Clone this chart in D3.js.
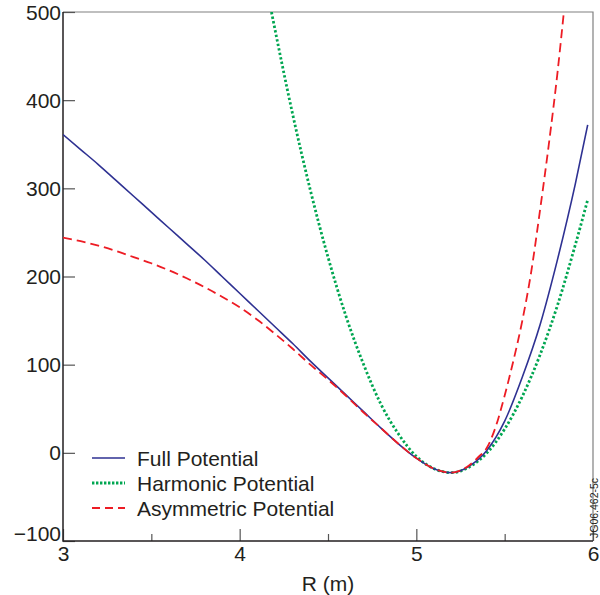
<!DOCTYPE html>
<html>
<head>
<meta charset="utf-8">
<script src="https://cdn.jsdelivr.net/npm/d3@7/dist/d3.min.js"></script>
<style>
body { margin: 0; background: #fff; }
text { font-family: "Liberation Sans", Arial, sans-serif; fill: #231f20; }
</style>
</head>
<body>
<script>
// values
const rFull = [3.0, 3.1, 3.2, 3.3, 3.4, 3.5, 3.6, 3.7, 3.8, 3.9, 4.0, 4.1, 4.2, 4.3, 4.4, 4.5, 4.6, 4.7, 4.8, 4.9, 5.0, 5.1, 5.2, 5.3, 5.4, 5.5, 5.6, 5.7, 5.8, 5.9, 5.97]
const vFull = [361, 344, 327, 309, 291, 273, 255, 237, 219, 200, 181, 162, 143, 124, 104, 85, 66, 47, 28, 10, -6, -18, -22.5, -15, 3, 36, 86, 145, 220, 305, 372]

const rHarm = [4.18, 4.3, 4.4, 4.5, 4.6, 4.7, 4.8, 4.9, 5.0, 5.1, 5.2, 5.3, 5.4, 5.5, 5.6, 5.7, 5.8, 5.9, 5.97]
const vHarm = [500, 384, 298, 222, 156, 101, 55, 21, -4, -18, -22.5, -16, 0, 27, 64, 111, 168, 236, 287]

const rAsym = [3.0, 3.1, 3.2, 3.3, 3.4, 3.5, 3.6, 3.7, 3.8, 3.9, 4.0, 4.1, 4.2, 4.3, 4.4, 4.5, 4.6, 4.7, 4.8, 4.9, 5.0, 5.1, 5.2, 5.25, 5.3, 5.35, 5.4, 5.45, 5.5, 5.55, 5.6, 5.65, 5.7, 5.75, 5.8, 5.835]
const vAsym = [244, 240, 235, 229, 222, 215, 207, 198, 188, 177, 165, 151, 135, 118, 100, 83, 65, 46, 28, 10, -6, -18, -22.5, -20, -14, -5, 6, 30, 65, 105, 150, 205, 275, 350, 433, 500]

const xTicks = [3, 4, 5, 6]
const xMinor = [3.5, 4.5, 5.5]
const yTicks = [-100, 0, 100, 200, 300, 400, 500]
const names = ["Full Potential", "Harmonic Potential", "Asymmetric Potential"]

const W = 600, H = 595
const pl = 63, pr = 593, pt = 12, pb = 541
const fs = 21

const svg = d3.select("body").append("svg")
    .attr("width", W)
    .attr("height", H)

const x = d3.scaleLinear().domain([3, 6]).range([pl, pr])
const y = d3.scaleLinear().domain([-100, 500]).range([pb, pt])

svg.append("clipPath").attr("id", "clip")
    .append("rect")
    .attr("x", pl).attr("y", pt)
    .attr("width", pr - pl).attr("height", pb - pt)

// frame: grey top/right, black left/bottom
svg.append("path")
    .attr("d", `M${pl},${pt}H${pr}V${pb}`)
    .attr("fill", "none").attr("stroke", "#808080").attr("stroke-width", 1.2)

const yAxis = d3.axisLeft(y).tickValues(yTicks).tickSize(-12)
    .tickFormat(d => d < 0 ? "\u2212" + Math.abs(d) : d)
const gy = svg.append("g")
    .attr("transform", `translate(${pl},0)`)
    .call(yAxis)
gy.select(".domain").remove()
gy.selectAll(".tick line").attr("stroke", "#555").attr("stroke-width", 1.2)
gy.selectAll(".tick text")
    .attr("font-size", fs)
    .attr("x", -2)
    .style("fill", "#231f20")
    .attr("dy", d => d === -100 ? "-0.02em" : "0.34em")

const xAxis = d3.axisBottom(x).tickValues(xTicks).tickSize(-12).tickFormat(d3.format("d"))
const gx = svg.append("g")
    .attr("transform", `translate(0,${pb})`)
    .call(xAxis)
gx.select(".domain").remove()
gx.selectAll(".tick line").attr("stroke", "#555").attr("stroke-width", 1.2)
gx.selectAll(".tick text").attr("font-size", fs).attr("y", 5).attr("dy", "0.71em").style("fill", "#231f20")

svg.append("g")
    .attr("transform", `translate(0,${pb})`)
    .call(d3.axisBottom(x).tickValues(xMinor).tickSize(-7).tickFormat(""))
    .call(g => g.select(".domain").remove())
    .selectAll(".tick line").attr("stroke", "#555").attr("stroke-width", 1.2)

svg.append("path")
    .attr("d", `M${pl},${pt}V${pb}H${pr}`)
    .attr("fill", "none").attr("stroke", "#231f20").attr("stroke-width", 1.5)

const line = d3.line()
    .x(d => x(d[0]))
    .y(d => y(d[1]))
    .curve(d3.curveMonotoneX)

const plot = svg.append("g").attr("clip-path", "url(#clip)")

plot.append("path")
    .attr("d", line(d3.zip(rHarm, vHarm)))
    .attr("fill", "none")
    .attr("stroke", "#00a651")
    .attr("stroke-width", 2.8)
    .attr("stroke-dasharray", "2.4,2.2")

plot.append("path")
    .attr("d", line(d3.zip(rFull, vFull)))
    .attr("fill", "none")
    .attr("stroke", "#2e3192")
    .attr("stroke-width", 1.6)

plot.append("path")
    .attr("d", line(d3.zip(rAsym, vAsym)))
    .attr("fill", "none")
    .attr("stroke", "#ed1c24")
    .attr("stroke-width", 1.8)
    .attr("stroke-dasharray", "9,5")

// legend
const styles = [
    { c: "#2e3192", w: 1.6, dash: null },
    { c: "#00a651", w: 2.8, dash: "2.4,1.6" },
    { c: "#ed1c24", w: 1.8, dash: "8,5" }
]
const leg = svg.append("g")
names.forEach((n, i) => {
    const ly = 458 + i * 25
    leg.append("line")
        .attr("x1", 92).attr("x2", 125)
        .attr("y1", ly).attr("y2", ly)
        .attr("stroke", styles[i].c)
        .attr("stroke-width", styles[i].w)
        .attr("stroke-dasharray", styles[i].dash)
    leg.append("text")
        .attr("x", 137).attr("y", ly)
        .attr("dy", "0.36em")
        .attr("font-size", fs)
        .text(n)
})

svg.append("text")
    .attr("x", (pl + pr) / 2)
    .attr("y", 591)
    .attr("text-anchor", "middle")
    .attr("font-size", fs)
    .text("R (m)")

svg.append("text")
    .attr("transform", "translate(598,538) rotate(-90)")
    .attr("font-size", 10.5)
    .text("JG06.462-5c")
</script>
</body>
</html>
